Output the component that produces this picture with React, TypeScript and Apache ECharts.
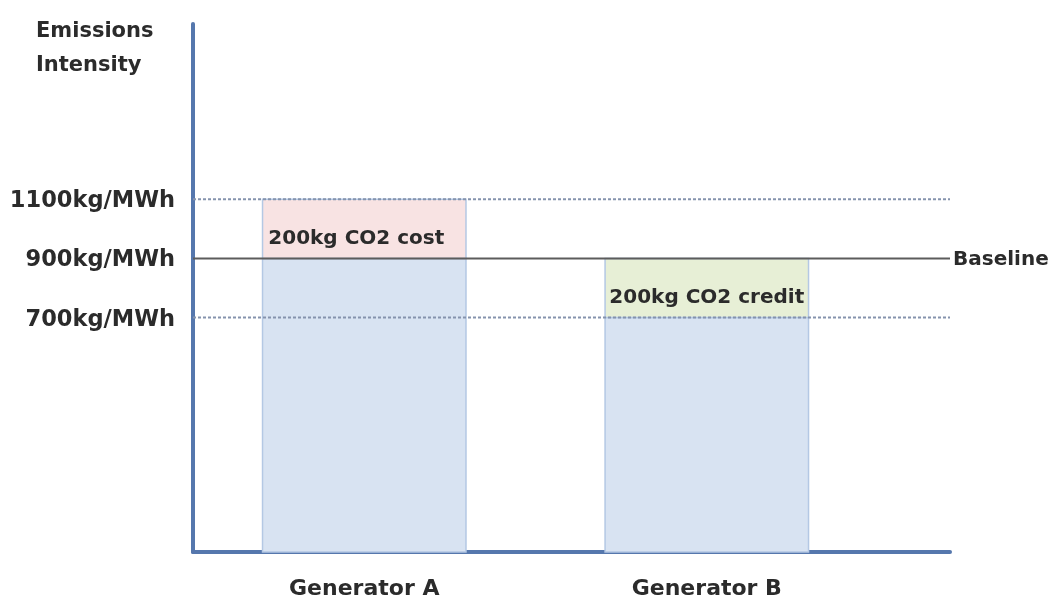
import React, { useEffect, useRef } from "react";
import * as echarts from "echarts";

// ---- data ----
const categories = ["Generator A", "Generator B"];
const intensities = [1100, 700]; // kg/MWh
const baseline = 900; // kg/MWh
const yTicks = [700, 900, 1100];
const segmentLabels = ["200kg CO2 cost", "200kg CO2 credit"];
const segmentColors = ["#f8e3e3", "#e7efd6"];
const yMin = -93;
const yMax = 1693;
const xMin = -0.5;
const xMax = 1.71;

const FONT = "'DejaVu Sans', 'Open Sans', sans-serif";
const TEXT = "#2b2b2b";
const AXIS = "#5577ad";
const BAR_W = 0.594;

export default function App() {
  const ref = useRef<HTMLDivElement>(null);
  useEffect(() => {
    if (!ref.current) return;
    const chart = echarts.init(ref.current, null, { renderer: "svg" });

    const baseData = categories.map((_, i) => [i, yMin, Math.min(intensities[i], baseline)]);
    const topData = categories.map((_, i) => [
      i,
      Math.min(intensities[i], baseline),
      Math.max(intensities[i], baseline),
    ]);

    const renderBase = (params: any, api: any) => {
      const x = api.value(0);
      const p0 = api.coord([x, api.value(1)]);
      const p1 = api.coord([x, api.value(2)]);
      const w = api.size([BAR_W, 0])[0];
      return {
        type: "rect",
        shape: { x: p1[0] - w / 2, y: p1[1], width: w, height: p0[1] - p1[1] },
        style: { fill: "#d8e3f2", stroke: "#b4c8e4", lineWidth: 1.5 },
      };
    };
    const renderTop = (params: any, api: any) => {
      const x = api.value(0);
      const p0 = api.coord([x, api.value(1)]);
      const p1 = api.coord([x, api.value(2)]);
      const w = api.size([BAR_W, 0])[0];
      const i = params.dataIndex;
      return {
        type: "group",
        children: [
          {
            type: "rect",
            shape: { x: p1[0] - w / 2, y: p1[1], width: w, height: p0[1] - p1[1] },
            style: { fill: segmentColors[i], stroke: "#b4c8e4", lineWidth: 1.5 },
          },
          {
            type: "text",
            x: p1[0] - (i === 0 ? 8 : 0),
            y: (p0[1] + p1[1]) / 2 + 8,
            style: {
              text: segmentLabels[i],
              align: "center",
              verticalAlign: "middle",
              fontFamily: FONT,
              fontWeight: "bold",
              fontSize: 20,
              fill: TEXT,
            },
          },
        ],
      };
    };

    chart.setOption({
      animation: false,
      title: {
        text: "Emissions\nIntensity",
        left: 31,
        top: 8,
        textStyle: {
          fontFamily: FONT,
          fontWeight: "bold",
          fontSize: 21,
          lineHeight: 34,
          color: TEXT,
        },
      },
      grid: { left: 193, right: 102, top: 24, bottom: 46 },
      xAxis: {
        type: "value",
        min: xMin,
        max: xMax,
        splitLine: { show: false },
        axisTick: { show: false },
        axisLine: { show: true, onZero: false, lineStyle: { color: AXIS, width: 4 } },
        axisLabel: {
          customValues: [0, 1],
          formatter: (v: number) => categories[Math.round(v)] ?? "",
          margin: 24,
          fontFamily: FONT,
          fontWeight: "bold",
          fontSize: 22,
          color: TEXT,
        },
      },
      yAxis: {
        type: "value",
        min: yMin,
        max: yMax,
        splitLine: { show: false },
        axisTick: { show: false },
        axisLine: { show: true, onZero: false, lineStyle: { color: AXIS, width: 4 } },
        axisLabel: {
          customValues: yTicks,
          formatter: (v: number) => `${v}kg/MWh`,
          margin: 18,
          fontFamily: FONT,
          fontWeight: "bold",
          fontSize: 22.5,
          color: TEXT,
        },
      },
      series: [
        {
          type: "custom",
          renderItem: renderBase,
          data: baseData,
          z: 2,
          silent: true,
        },
        {
          type: "custom",
          renderItem: renderTop,
          data: topData,
          z: 2,
          silent: true,
        },
        ...yTicks
          .filter((t) => t !== baseline)
          .map((t) => ({
            type: "line",
            data: [
              [xMin, t],
              [xMax, t],
            ],
            symbol: "none",
            silent: true,
            z: 3,
            lineStyle: { color: "#8593ad", width: 2, type: [3, 2] },
          })),
        {
          type: "line",
          data: [
            [xMin, baseline],
            [xMax, baseline],
          ],
          symbol: "none",
          silent: true,
          z: 4,
          lineStyle: { color: "#5c5c5c", width: 2 },
          endLabel: {
            show: true,
            formatter: "Baseline",
            distance: 3,
            fontFamily: FONT,
            fontWeight: "bold",
            fontSize: 20,
            color: TEXT,
          },
        },
      ],
    });
    return () => chart.dispose();
  }, []);
  return (
    <div
      ref={ref}
      style={{ position: "fixed", left: 0, top: 0, width: 1052, height: 598 }}
    />
  );
}
